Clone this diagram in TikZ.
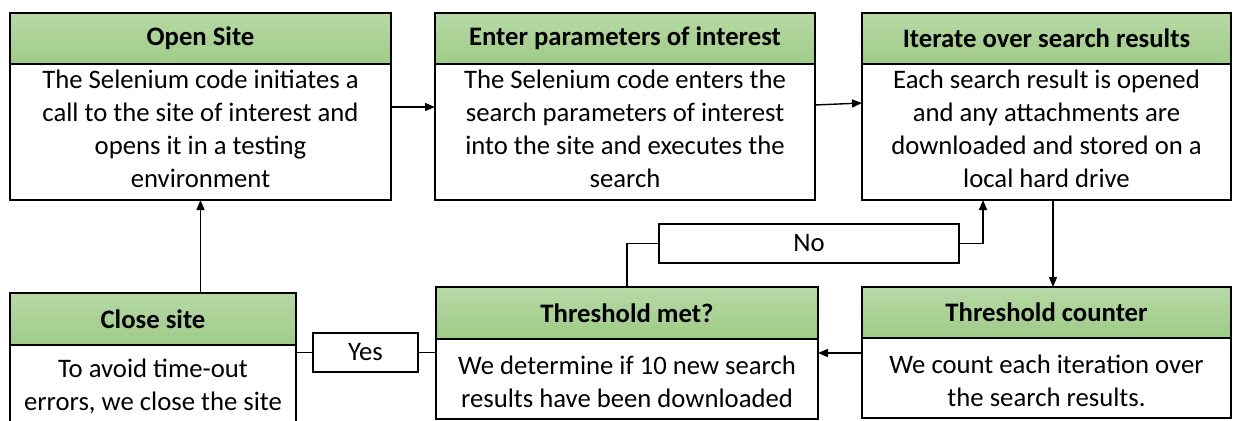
\documentclass[tikz,border=0pt]{standalone}
\usepackage{fontspec}
\setmainfont{Carlito}
\usepackage{xcolor}
\usetikzlibrary{positioning, arrows.meta, calc}
\definecolor{headtop}{RGB}{184,217,166}
\definecolor{headbot}{RGB}{158,203,135}

\tikzset{
  head/.style={draw, line width=1.4pt, top color=headtop, bottom color=headbot,
    anchor=north west, outer sep=0pt, inner sep=0pt, minimum height=51pt,
    font=\fontsize{26.7}{33}\selectfont\bfseries},
  body/.style={draw, line width=1.4pt, fill=white, anchor=north west,
    outer sep=0pt, inner sep=0pt, align=center,
    font=\fontsize{26.7}{33}\selectfont},
  tagbox/.style={draw, line width=1.4pt, fill=white, inner sep=0pt,
    font=\fontsize{26.7}{33}\selectfont},
  link/.style={line width=1.4pt},
  >={Triangle[length=10pt,width=8pt]}
}

\begin{document}
\begin{tikzpicture}[x=1pt, y=-1pt]
\useasboundingbox[fill=white] (0,0) rectangle (1241,420);

% top row
\node[head, minimum width=381pt] (h1) at (10,13) {Open Site};
\node[body, minimum width=381pt, minimum height=136pt, text depth=7pt] (b1) at (10,64)
    {The Selenium code initiates a\\ call to the site of interest and\\
     opens it in a testing\\ environment};

\node[head, minimum width=380pt] (h2) at (435,13) {Enter parameters of interest};
\node[body, minimum width=380pt, minimum height=136pt, text depth=7pt] (b2) at (435,64)
    {The Selenium code enters the\\ search parameters of interest\\
     into the site and executes the\\ search};

\node[head, minimum width=369pt] (h3) at (862,13) {Iterate over search results};
\node[body, minimum width=369pt, minimum height=136pt, text depth=7pt] (b3) at (862,64)
    {Each search result is opened\\ and any attachments are\\
     downloaded and stored on a\\ local hard drive};

% bottom row
\node[head, minimum width=369pt] (h4) at (862,287) {Threshold counter};
\node[body, minimum width=369pt, minimum height=80pt, text height=58pt] (b4) at (862,338)
    {We count each iteration over\\ the search results.};

\node[head, minimum width=382pt, minimum height=52pt] (h5) at (436,287) {Threshold met?};
\node[body, minimum width=382pt, minimum height=80pt, text height=58pt] (b5) at (436,339)
    {We determine if 10 new search\\ results have been downloaded};

\node[head, minimum width=286pt, minimum height=52pt] (h6) at (10,293) {Close site};
\node[body, minimum width=286pt, minimum height=82pt] (b6) at (10,345)
    {To avoid time-out\\ errors, we close the site};

% decision labels
\node[tagbox, minimum width=300pt, minimum height=39pt] (no) at (809,243.5) {No};
\node[tagbox, minimum width=105pt, minimum height=39pt] (yes) at (365.5,352.5) {Yes};

% connectors
\draw[link, ->] ([yshift=25pt]b1.east) -- ([yshift=25pt]b1.east -| b2.west);
\draw[link, ->] ([yshift=27pt]b2.east) -- ([yshift=29pt]b3.west);
\draw[link, ->] ([xshift=6.5pt]b3.south) -- ([xshift=6.5pt]h4.north);
\draw[link, ->] ([yshift=25pt]b4.west) -- ([yshift=25pt]b4.west -| b5.east);
\draw[link] (h5.north) |- (no.west);
\draw[link, ->] (no.east) -| ([xshift=-63.5pt]b3.south);
\draw[link] (yes.west) -- (yes -| b6.east);
\draw[link] (yes.east) -- (yes -| b5.west);
\draw[link, ->] (b1.south |- h6.north) -- (b1.south);

\end{tikzpicture}
\end{document}
